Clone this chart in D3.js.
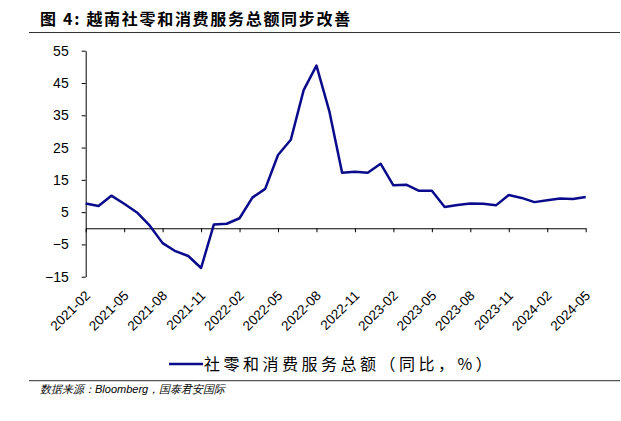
<!DOCTYPE html>
<html><head><meta charset="utf-8">
<script src="https://cdn.jsdelivr.net/npm/d3@7/dist/d3.min.js"></script>
<style>
body{margin:0;background:#fff;}
svg{display:block;}
</style></head>
<body>
<svg id="c" width="621" height="421"></svg>
<script>
const months = ["2021-02","2021-03","2021-04","2021-05","2021-06","2021-07","2021-08","2021-09","2021-10","2021-11","2021-12",
"2022-01","2022-02","2022-03","2022-04","2022-05","2022-06","2022-07","2022-08","2022-09","2022-10","2022-11","2022-12",
"2023-01","2023-02","2023-03","2023-04","2023-05","2023-06","2023-07","2023-08","2023-09","2023-10","2023-11","2023-12",
"2024-01","2024-02","2024-03","2024-04","2024-05"];
const values = [7.7,6.9,10.1,7.6,4.9,0.8,-4.6,-7.1,-8.6,-12.3,1.2,
1.4,3.1,9.5,12.2,22.7,27.4,42.8,50.4,36.3,17.2,17.5,17.2,
20.0,13.3,13.5,11.6,11.6,6.6,7.2,7.7,7.6,7.1,10.3,9.4,
8.1,8.7,9.2,9.1,9.7];
const xTickLabels = ["2021-02","2021-05","2021-08","2021-11","2022-02","2022-05","2022-08","2022-11","2023-02","2023-05","2023-08","2023-11","2024-02","2024-05"];
const yTicks = [-15,-5,5,15,25,35,45,55];
const titleText = "图 4:  越南社零和消费服务总额同步改善";
const seriesName = "社零和消费服务总额（同比，%）";
const sourceText = "数据来源：Bloomberg，国泰君安国际";

const svg = d3.select("#c");
const sans = "'Liberation Sans', Arial, sans-serif";
const cjk = "'Noto Sans CJK SC', sans-serif";

const x = d3.scalePoint().domain(months).range([85.7, 585.7]);
const y = d3.scaleLinear().domain([-15,55]).range([276.7, 50.7]);

// title
svg.append("text").attr("x",40).attr("y",25)
  .attr("font-family",cjk).attr("font-size",16).attr("font-weight","bold")
  .attr("letter-spacing",1.7).attr("fill","#000").text(titleText);
svg.append("line").attr("x1",29).attr("x2",620).attr("y1",32.5).attr("y2",32.5)
  .attr("stroke","#333").attr("stroke-width",1.2);

// y axis
const yAxis = svg.append("g").attr("transform","translate(85.7,0)")
  .call(d3.axisLeft(y).tickValues(yTicks).tickSize(4).tickSizeOuter(0).tickPadding(13));
yAxis.selectAll("text").attr("font-family",sans).attr("font-size",14).attr("fill","#000");
yAxis.selectAll("line,path").attr("stroke","#000");

// x axis at zero
const xAxis = svg.append("g").attr("transform",`translate(0,${y(0)})`)
  .call(d3.axisBottom(x).tickValues(xTickLabels).tickSize(4).tickSizeOuter(0).tickFormat(""));
xAxis.selectAll("line,path").attr("stroke","#000");

// x labels at bottom
svg.append("g").selectAll("text").data(xTickLabels).join("text")
  .attr("transform",d=>`translate(${x(d)+2},${293}) rotate(-45)`)
  .attr("text-anchor","end").attr("dy","0.35em")
  .attr("font-family",sans).attr("font-size",13.5).attr("fill","#000")
  .text(d=>d);

// line
const line = d3.line().x((d,i)=>x(months[i])).y(d=>y(d));
svg.append("path").datum(values).attr("d",line)
  .attr("fill","none").attr("stroke","#0a0a8c").attr("stroke-width",2.5)
  .attr("stroke-linejoin","round");

// legend
svg.append("line").attr("x1",169).attr("x2",203).attr("y1",364).attr("y2",364)
  .attr("stroke","#0a0a8c").attr("stroke-width",2.5);
svg.append("text").attr("x",204).attr("y",370)
  .attr("font-family",cjk).attr("font-size",16).attr("letter-spacing",3.5)
  .attr("fill","#000").text(seriesName);

// bottom rule + source
svg.append("line").attr("x1",29).attr("x2",620).attr("y1",380.7).attr("y2",380.7)
  .attr("stroke","#555").attr("stroke-width",1.2);
svg.append("text").attr("x",40).attr("y",393)
  .attr("font-family",sans).attr("font-size",11).attr("font-style","italic")
  .attr("fill","#000").text(sourceText);
</script>
</body></html>
